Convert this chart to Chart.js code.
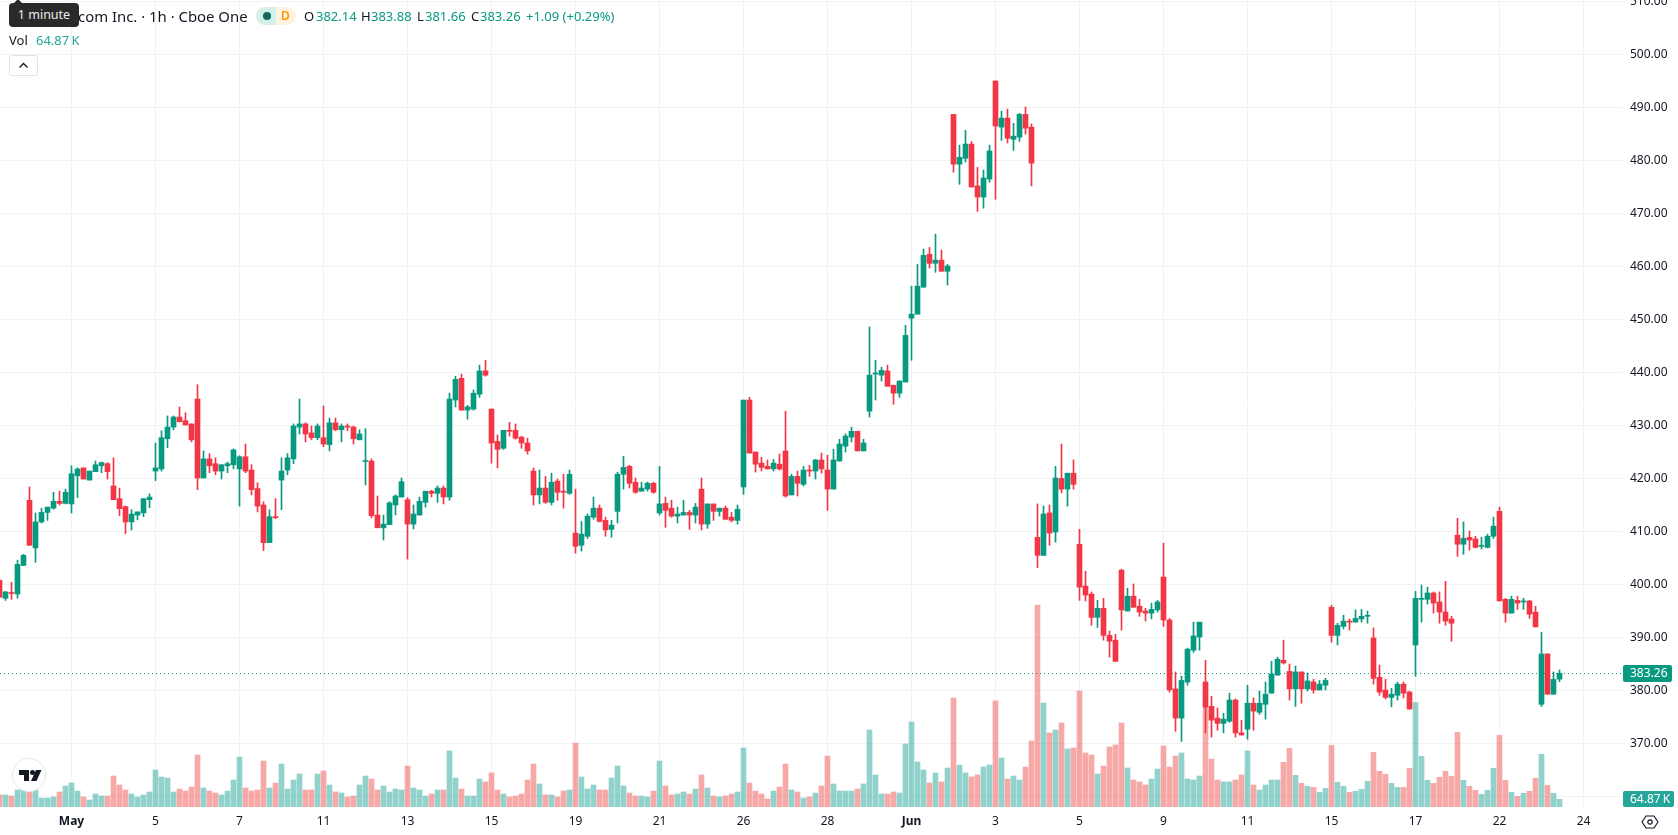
<!DOCTYPE html>
<html>
<head>
<meta charset="utf-8">
<title>Hourly candles</title>
<script src="https://cdn.jsdelivr.net/npm/chart.js@4"></script>
<style>
  html, body { margin: 0; padding: 0; background: #fff; overflow: hidden; }
  #wrap { position: relative; width: 1678px; height: 835px; font-family: "Noto Sans", sans-serif; color: #131722; }
  #wrap > * { position: absolute; white-space: nowrap; }
  canvas { left: 0; top: 0; }
  .up { color: #089981; }
  .lbl { font-size: 13px; line-height: 18px; top: 7px; }
  #tip { left: 9px; top: 3px; width: 70px; height: 24px; background: #2a2a2a; border-radius: 4px; color: #ececec; font-size: 12.5px; line-height: 24px; text-align: center; }
  #tipArrow { left: 13px; top: -1px; width: 0; height: 0; border-left: 5px solid transparent; border-right: 5px solid transparent; border-bottom: 5px solid #2a2a2a; }
  #pill { left: 256px; top: 7px; width: 40px; height: 18px; border-radius: 9px; overflow: hidden; background: #fff3e0; }
  #pill i { position: absolute; left: 0; top: 0; width: 20px; height: 18px; background: #d5efea; }
  #pill b { position: absolute; left: 7px; top: 5px; width: 8px; height: 8px; border-radius: 4px; background: #0b6b5c; }
  #pill span { position: absolute; left: 25px; top: 0; font-size: 12px; line-height: 18px; font-weight: 600; color: #ff9800; }
  #fold { left: 9px; top: 55px; width: 27px; height: 19px; border: 1px solid #e0e3eb; border-radius: 3px; background: #fff; }
  #logo { left: 12px; top: 758px; }
  #gear { left: 1641px; top: 813px; }
</style>
</head>
<body>
<div id="wrap">
  <canvas id="stockChart" width="1678" height="835"></canvas>

  <div style="left:78px;top:5px;font-size:14.9px;line-height:22px;">com Inc. · 1h · Cboe One</div>
  <div id="tipArrow"></div>
  <div id="tip">1 minute</div>
  <div id="pill"><i></i><b></b><span>D</span></div>

  <div class="lbl" style="left:304px;">O</div><div class="lbl up" style="left:316px;">382.14</div>
  <div class="lbl" style="left:361px;">H</div><div class="lbl up" style="left:371px;">383.88</div>
  <div class="lbl" style="left:417px;">L</div><div class="lbl up" style="left:425px;">381.66</div>
  <div class="lbl" style="left:471px;">C</div><div class="lbl up" style="left:480px;">383.26</div>
  <div class="lbl up" style="left:526px;">+1.09 (+0.29%)</div>

  <div style="left:9px;top:31px;font-size:13px;line-height:18px;">Vol</div>
  <div style="left:36px;top:31px;font-size:13px;line-height:18px;color:#26a69a;">64.87&#8201;K</div>

  <div id="fold"><svg width="27" height="19" viewBox="0 0 27 19"><polyline points="9.5,11.5 13.5,7.5 17.5,11.5" fill="none" stroke="#131722" stroke-width="1.4"/></svg></div>

  <svg id="logo" width="34" height="34" viewBox="0 0 34 34">
    <circle cx="17" cy="17" r="16.5" fill="#fff" stroke="#e6e7ea"/>
    <path d="M7 12h10v11h-5v-6H7z" fill="#131722"/>
    <circle cx="20.5" cy="14.5" r="2.5" fill="#131722"/>
    <path d="M24 12h5.5l-5 11H19z" fill="#131722"/>
  </svg>

  <svg id="gear" width="18" height="18" viewBox="0 0 18 18">
    <path d="M5 3h8l4 6-4 6H5L1 9z" fill="none" stroke="#131722" stroke-width="1.2" stroke-linejoin="round"/>
    <circle cx="9" cy="9" r="2.2" fill="none" stroke="#131722" stroke-width="1.2"/>
  </svg>
</div>

<script>
// ====== CANDLE DATA ======
const opens = [
  400.8,397.4,398.5,398.2,403.6,415.9,406.9,411.8,413.6,414.4,
  415.7,415.3,415.2,420.5,422.0,419.7,421.3,422.4,422.8,418.6,
  416.2,414.7,411.8,413.1,413.5,416.0,421.4,421.8,427.5,429.7,
  431.6,430.9,430.3,435.0,420.1,423.7,422.8,421.4,422.4,422.6,
  421.8,424.1,421.6,418.1,415.0,407.9,412.8,419.7,421.6,423.7,
  429.7,430.3,428.6,427.7,427.7,426.4,430.5,429.2,429.9,429.7,
  427.3,423.2,423.3,413.1,410.7,411.3,415.0,416.5,416.0,411.4,
  413.1,415.5,417.6,417.2,418.2,416.5,434.8,438.9,432.9,433.1,
  435.9,440.3,433.1,427.0,425.7,429.1,429.1,427.8,426.7,421.4,
  416.9,418.2,415.5,419.5,417.6,417.2,409.7,407.4,409.1,412.7,
  414.4,412.1,410.4,413.8,420.8,422.3,419.3,417.6,418.0,419.1,
  413.5,415.3,414.4,412.9,413.1,413.6,413.1,418.0,411.4,415.2,
  413.8,414.4,412.7,412.1,418.4,434.8,425.0,422.9,422.3,421.8,
  422.7,425.2,416.9,420.4,418.9,421.6,421.4,423.5,421.6,418.0,
  423.3,426.1,427.8,428.9,425.2,432.7,439.7,439.5,440.3,437.6,
  436.1,438.2,450.25,451.0,456.1,462.3,460.6,461.2,459.1,488.7,
  479.3,480.4,483.1,475.2,473.1,476.5,495.0,486.3,488.0,484.0,
  484.4,488.7,486.3,408.9,405.5,413.5,409.9,420.0,418.0,421.0,
  407.6,399.7,398.2,393.8,395.5,390.4,389.5,402.7,395.0,397.8,
  395.9,395.0,394.6,395.2,401.4,393.3,380.3,374.8,381.6,387.6,
  390.1,381.6,377.0,374.8,373.8,374.2,378.2,372.0,372.7,377.6,
  375.9,377.4,379.5,382.9,385.7,383.6,380.3,383.5,380.3,381.6,
  380.1,381.0,395.7,390.4,392.1,393.1,392.9,393.5,394.0,389.9,
  382.5,380.1,378.7,379.1,381.2,379.7,388.6,397.2,397.2,398.4,
  396.7,394.8,393.5,409.3,407.6,408.9,408.6,407.2,407.0,409.1,
  413.8,397.2,394.6,397.0,396.7,396.9,394.8,377.4,386.9,379.3,
  382.14
];
const highs = [
  400.8,398.7,400.4,404.6,405.7,418.4,413.5,414.4,414.6,417.4,
  417.6,418.0,422.4,422.0,422.0,421.4,423.3,423.1,423.0,423.9,
  418.2,414.8,414.1,413.7,416.2,417.1,426.7,429.0,431.8,431.8,
  433.5,432.4,430.3,437.7,425.2,424.7,423.9,422.6,423.1,425.6,
  424.3,426.5,422.6,419.2,415.6,414.1,416.2,423.9,424.7,430.3,
  435.0,430.5,429.9,430.3,433.7,431.4,431.4,430.3,430.3,429.9,
  429.2,429.4,423.7,416.7,413.1,415.6,416.9,420.1,416.4,415.0,
  416.5,417.6,417.8,418.6,418.6,436.1,439.3,439.7,433.8,436.7,
  441.4,442.3,433.1,428.2,429.1,430.6,430.3,428.0,427.6,422.0,
  421.6,420.4,421.0,419.9,420.8,421.6,418.0,411.9,413.3,416.5,
  415.0,412.7,412.1,421.2,424.2,422.5,420.1,419.3,419.3,419.3,
  422.3,416.5,415.9,414.6,415.9,414.0,415.3,420.1,415.2,415.2,
  414.4,414.8,413.6,415.0,434.8,435.3,425.0,424.0,423.5,423.6,
  424.6,432.7,420.8,421.4,422.3,422.5,423.6,424.8,424.4,425.5,
  427.4,428.4,429.7,428.9,427.4,448.6,442.3,441.0,441.4,437.6,
  438.4,448.9,456.3,460.4,463.3,463.6,466.1,463.1,460.4,488.7,
  482.9,485.7,483.6,478.7,478.2,482.9,495.0,489.3,489.7,487.0,
  488.9,490.1,486.9,415.2,414.8,415.0,422.3,426.5,421.0,423.5,
  410.4,402.5,398.6,397.0,397.4,391.2,390.6,402.9,399.3,400.1,
  397.2,395.5,396.5,397.0,407.8,393.6,383.5,382.7,388.0,392.9,
  392.9,385.7,378.9,376.7,375.7,379.5,378.4,374.4,381.0,378.6,
  379.9,381.6,385.5,386.3,389.5,385.0,384.6,383.5,383.3,382.1,
  381.9,382.3,396.1,392.7,394.2,393.5,395.2,395.3,395.0,391.8,
  384.8,382.1,380.4,381.6,381.6,379.9,398.7,399.9,399.5,398.6,
  398.6,400.6,394.0,412.5,411.8,410.1,409.1,408.9,409.5,412.7,
  414.6,397.4,397.8,397.8,397.4,397.0,395.9,391.0,386.9,383.5,
  383.88
];
const lows = [
  397.6,397.0,397.2,397.4,403.6,407.4,404.2,411.6,412.1,414.2,
  415.0,415.2,413.5,416.4,419.9,419.7,421.3,421.1,419.9,416.0,
  413.0,409.6,410.3,412.2,412.8,414.5,419.6,421.4,425.8,429.2,
  430.7,430.1,426.9,417.9,420.1,421.1,420.7,419.9,421.1,421.8,
  414.8,421.1,416.9,413.7,406.4,407.9,412.4,414.1,420.7,422.8,
  428.4,426.9,427.3,427.3,426.0,425.2,429.0,426.9,429.0,426.5,
  427.3,418.8,412.6,410.7,408.4,411.3,413.1,416.5,404.8,410.5,
  413.1,414.6,416.5,415.5,415.2,415.9,433.5,432.9,431.2,432.9,
  435.3,439.3,422.9,422.0,425.5,428.0,427.4,425.7,424.6,415.0,
  415.2,415.3,415.0,415.9,414.4,417.0,405.9,406.3,408.7,412.3,
  411.8,409.1,408.9,411.6,418.0,418.2,417.2,417.6,417.6,417.2,
  413.1,410.8,412.7,411.6,413.1,410.4,411.6,410.3,410.6,412.1,
  412.9,412.3,411.8,411.4,417.0,424.8,421.2,421.4,421.8,421.4,
  421.6,416.5,416.9,416.7,418.6,420.4,419.9,421.0,414.0,418.0,
  423.3,425.0,426.9,425.2,425.2,431.6,434.8,438.4,437.4,434.0,
  435.3,438.2,442.3,451.0,456.1,459.7,458.9,459.1,456.5,477.8,
  475.5,479.7,475.0,470.4,471.0,475.9,472.7,483.8,483.3,481.9,
  483.6,485.0,475.2,403.2,405.5,407.4,408.0,417.3,414.8,418.0,
  397.0,396.9,392.3,391.9,389.5,386.3,385.5,391.4,395.0,395.7,
  394.0,393.1,393.5,394.8,392.1,379.7,372.3,370.4,381.0,387.2,
  387.6,372.0,371.2,372.5,372.0,374.0,371.2,371.6,370.8,372.5,
  375.5,374.6,379.5,382.9,385.0,378.2,377.0,377.6,379.9,379.5,
  380.1,380.1,389.1,388.6,391.6,391.4,392.9,392.9,392.7,381.2,
  379.1,378.4,376.9,378.2,378.6,376.5,382.7,392.9,396.3,394.6,
  392.7,392.3,389.3,405.3,405.7,406.5,406.9,406.7,406.9,408.7,
  396.9,392.9,394.6,395.3,395.3,393.6,392.0,377.0,379.3,379.3,
  381.66
];
const closes = [
  397.6,398.6,398.3,403.8,405.5,407.4,411.8,413.6,414.6,415.7,
  415.3,417.4,420.9,421.8,419.9,421.4,422.6,423.0,421.3,416.0,
  414.3,411.8,413.3,413.7,416.2,416.5,422.0,427.7,429.7,431.6,
  430.7,430.1,427.3,420.1,423.7,422.4,421.4,422.6,422.8,425.4,
  424.1,421.4,417.9,414.8,407.9,412.8,412.6,421.4,423.9,429.9,
  430.3,428.4,427.7,429.9,426.5,430.5,429.2,429.9,429.7,427.5,
  428.4,423.3,413.0,410.7,411.4,415.4,416.7,419.4,411.4,413.3,
  415.7,417.6,417.2,418.2,416.5,435.0,438.7,432.9,433.5,436.1,
  440.3,439.5,426.7,425.5,429.1,428.9,427.6,426.7,425.2,416.9,
  418.2,415.5,419.3,417.4,417.4,420.8,407.2,409.5,412.9,414.4,
  411.9,410.3,411.2,420.8,422.1,419.1,417.4,418.2,419.1,417.4,
  415.2,414.0,412.9,413.3,413.6,413.1,414.6,411.4,415.2,413.8,
  414.4,412.3,412.1,414.2,434.8,424.8,422.7,422.1,421.8,422.9,
  421.8,416.7,420.4,419.1,421.6,421.4,423.5,421.8,418.0,423.5,
  426.5,428.0,428.9,425.2,426.7,439.5,439.9,440.4,437.4,436.1,
  438.4,447.0,451.0,456.3,462.1,460.6,461.2,459.1,460.1,479.3,
  480.6,483.1,475.0,473.1,476.7,481.8,486.5,488.0,484.2,484.6,
  488.7,486.1,479.5,405.5,413.3,409.7,420.1,418.0,421.0,418.9,
  399.5,398.0,393.8,395.5,390.4,389.3,385.5,395.2,397.8,395.7,
  394.8,394.6,395.3,396.7,393.3,380.1,374.8,381.9,387.8,390.3,
  392.9,376.9,374.4,373.8,374.6,378.2,372.0,371.6,377.6,376.1,
  377.6,379.3,383.1,385.9,385.2,380.3,383.5,380.3,381.8,380.1,
  381.2,381.9,390.4,392.3,393.1,392.9,393.6,394.0,394.2,382.3,
  379.7,378.7,379.3,381.2,379.5,376.5,397.4,397.4,398.4,396.5,
  394.8,393.1,392.7,407.6,408.7,408.4,407.0,407.4,409.1,411.0,
  396.9,394.6,397.2,396.5,396.9,394.4,392.0,386.9,379.3,382.1,
  383.26
];

// volume per bar, in thousands
const volumes = [
  102,102,93,144,152,127,144,76,76,85,
  127,178,203,135,85,59,110,93,93,262,
  186,144,110,85,102,127,313,254,245,127,
  152,135,169,440,161,135,118,102,135,228,
  423,161,135,144,389,161,203,364,152,228,
  279,144,144,279,305,186,127,118,85,93,
  186,262,237,144,178,127,152,144,347,161,
  144,93,110,144,144,474,245,152,93,93,
  237,212,288,144,110,85,93,110,228,364,
  195,102,102,85,135,144,541,254,152,186,
  144,144,245,347,178,118,93,93,85,135,
  389,178,102,110,127,110,152,271,161,93,
  85,93,110,127,499,203,135,110,68,135,
  169,364,144,127,76,85,118,178,431,195,
  135,135,135,152,195,651,271,110,110,127,
  118,533,719,381,313,203,288,212,330,922,
  355,288,254,271,338,355,897,415,237,262,
  228,338,558,1709,880,626,651,711,491,499,
  981,457,440,279,347,508,525,711,330,228,
  212,186,237,321,516,338,431,457,237,228,
  262,849,406,228,212,212,228,271,474,186,
  144,186,228,228,378,496,268,200,175,166,
  124,158,522,209,175,124,133,149,217,462,
  302,276,200,166,166,327,885,429,226,200,
  251,302,259,632,226,175,141,107,141,327,
  606,226,124,90,116,133,243,446,183,116,
  64.87
];

// ====== AXIS TICKS ======
const priceTicks = [360,370,380,390,400,410,420,430,440,450,460,470,480,490,500,510];
const timeTicks = [12,26,40,54,68,82,96,110,124,138,152,166,180,194,208,222,236,250,264];
const timeLabels = ["May","5","7","11","13","15","19","21","26","28","Jun","3","5","9","11","15","17","22","24"];
const monthLabels = ["May","Jun"];

// ====== COLORS ======
const upColor = "#089981";
const downColor = "#f23645";
const upVol = "rgba(38,166,154,0.5)";
const downVol = "rgba(239,83,80,0.5)";
const gridColor = "#f1f2f4";
const textColor = "#131722";
const fontFamily = '"Noto Sans", sans-serif';

const isUp = closes.map((c, i) => c >= opens[i]);
const lastClose = closes[closes.length - 1];
const lastVolume = volumes[volumes.length - 1];

// fixed gutters so the plot keeps 6px per bar and 5.3px per dollar
function fixAxisBox(scale, size) {
  if (scale.isHorizontal()) scale.height = size; else scale.width = size;
  scale.paddingLeft = scale.paddingRight = scale.paddingTop = scale.paddingBottom = 0;
}

function roundBox(ctx, x, y, w, h, color, label) {
  ctx.fillStyle = color;
  ctx.beginPath();
  ctx.roundRect(x, y, w, h, 2);
  ctx.fill();
  ctx.fillStyle = "#fff";
  ctx.font = "12px " + fontFamily;
  ctx.textAlign = "left";
  ctx.textBaseline = "middle";
  ctx.fillText(label, x + 7, y + h / 2 + 0.5);
}

// ====== LAST PRICE MARKS ======
const lastPricePlugin = {
  id: "lastPrice",
  beforeDatasetsDraw(chart) {
    const { ctx, chartArea } = chart;
    const y = Math.floor(chart.scales.y.getPixelForValue(lastClose)) + 0.5;
    ctx.save();
    ctx.strokeStyle = upColor;
    ctx.lineWidth = 1;
    ctx.setLineDash([1, 3]);
    ctx.beginPath();
    ctx.moveTo(chartArea.left, y);
    ctx.lineTo(chartArea.right, y);
    ctx.stroke();
    ctx.restore();
  },
  afterDraw(chart) {
    const { ctx, chartArea } = chart;
    const y = chart.scales.y.getPixelForValue(lastClose);
    const v = chart.scales.vol.getPixelForValue(0);
    ctx.save();
    roundBox(ctx, chartArea.right + 1, Math.round(y) - 8, 49, 17, upColor, lastClose.toFixed(2));
    roundBox(ctx, chartArea.right + 1, v - 16, 51, 16, "#26a69a", lastVolume.toFixed(2) + "\u2009K");
    ctx.restore();
  }
};

// ====== CHART SETUP ======
const xMin = 0.0833;
const barIndex = closes.map((c, i) => i);

const ctx = document.getElementById("stockChart").getContext("2d");
new Chart(ctx, {
  type: "bar",
  data: {
    datasets: [
      {
        label: "Wick",
        order: 2,
        yAxisID: "y",
        barThickness: 1,
        data: barIndex.map(i => ({ x: i, y: [lows[i], highs[i]] })),
        backgroundColor: isUp.map(u => u ? upColor : downColor)
      },
      {
        label: "Body",
        order: 1,
        yAxisID: "y",
        barThickness: 5,
        minBarLength: 1,
        data: barIndex.map(i => ({ x: i, y: [Math.min(opens[i], closes[i]), Math.max(opens[i], closes[i])] })),
        backgroundColor: isUp.map(u => u ? upColor : downColor)
      },
      {
        label: "Vol",
        order: 3,
        yAxisID: "vol",
        barThickness: 5,
        data: barIndex.map(i => ({ x: i, y: volumes[i] })),
        backgroundColor: isUp.map(u => u ? upVol : downVol)
      }
    ]
  },
  options: {
    responsive: false,
    animation: false,
    events: [],
    layout: { padding: 0 },
    datasets: { bar: { grouped: false, borderWidth: 0 } },
    plugins: { legend: { display: false }, tooltip: { enabled: false } },
    scales: {
      x: {
        type: "linear",
        offset: false,
        min: xMin,
        max: xMin + 1622 / 6,
        border: { display: false },
        grid: { color: gridColor, offset: false, drawTicks: false },
        afterBuildTicks: s => { s.ticks = timeTicks.map(v => ({ value: v })); },
        afterFit: s => fixAxisBox(s, 28),
        ticks: {
          autoSkip: false,
          maxRotation: 0,
          padding: 7,
          color: textColor,
          font: c => {
            const label = timeLabels[timeTicks.indexOf(c.tick && c.tick.value)];
            return { family: fontFamily, size: 12, weight: monthLabels.includes(label) ? "bold" : "normal" };
          },
          callback: v => timeLabels[timeTicks.indexOf(v)]
        }
      },
      y: {
        position: "right",
        min: 358.019,
        max: 510.283,
        border: { display: false },
        grid: { color: gridColor, drawTicks: false },
        afterBuildTicks: s => { s.ticks = priceTicks.map(v => ({ value: v })); },
        afterFit: s => fixAxisBox(s, 56),
        ticks: {
          padding: 8,
          color: textColor,
          font: { family: fontFamily, size: 12 },
          callback: v => v === 360 ? "" : v.toFixed(2)
        }
      },
      vol: {
        display: false,
        min: 0,
        max: 6827
      }
    }
  },
  plugins: [lastPricePlugin]
});
</script>
</body>
</html>
